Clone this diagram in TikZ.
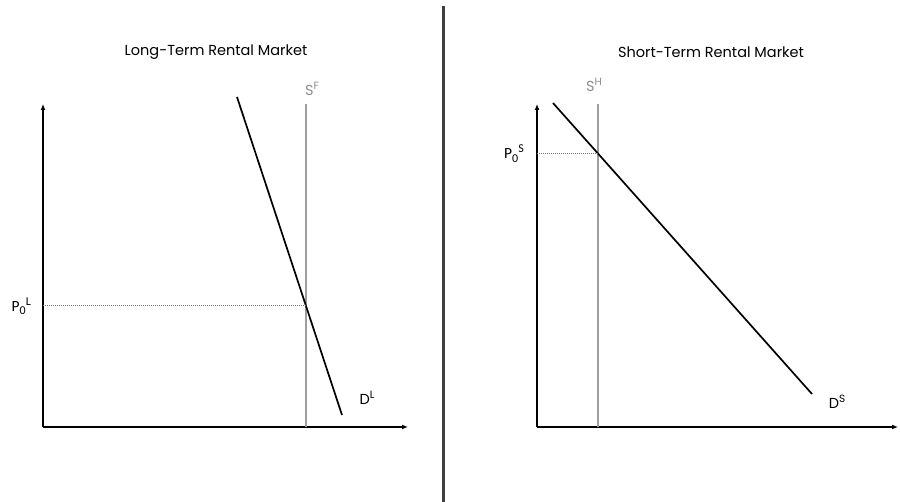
\documentclass[tikz,border=0pt]{standalone}
\usepackage{fontspec}
\setmainfont{Poppins}
\newfontfamily\pricefont{Carlito}
\usetikzlibrary{arrows.meta, positioning, calc}

% curve label with a superscript, price label with sub- and superscript
\newcommand{\curvelab}[2]{#1\raisebox{0.7ex}{\fontsize{10.5}{11}\selectfont #2}}
\newcommand{\pricelab}[1]{{\pricefont\fontsize{15.5}{17}\selectfont P\raisebox{-0.45ex}{\fontsize{12}{13}\selectfont 0}\raisebox{0.8ex}{\fontsize{12}{13}\selectfont #1}}}

\begin{document}
\begin{tikzpicture}[x=1pt, y=-1pt,
    axis/.style={line width=1.8pt, -{Latex[length=6pt,width=5pt]}},
    supply/.style={line width=1.8pt, draw=black!38},
    demand/.style={line width=1.7pt},
    guide/.style={densely dotted, draw=black!55, line width=1pt},
    title/.style={font=\fontsize{14.5}{16}\selectfont},
    lab/.style={font=\fontsize{14.5}{16}\selectfont, inner sep=1pt},
    divider/.style={line width=3pt, draw=black!75}]

    \useasboundingbox (0,0) rectangle (900,502);

    % Divider between the two markets
    \coordinate (divtop) at (443,6);
    \coordinate (divbot) at (443,502);
    \draw[divider] (divtop) -- (divbot);

    % ---- Long-term market ----
    \node[title] (titleL) at (216,52) {Long-Term Rental Market};

    \coordinate (Lo) at (43,427);
    \coordinate (Ly) at (43,104);
    \coordinate (Lx) at (408,427);
    \draw[axis] (Lo) -- (Ly);
    \draw[axis] (Lo) -- (Lx);

    % fixed supply
    \coordinate (SFtop) at (306,104);
    \coordinate (SFbot) at (306,427);
    \draw[supply] (SFbot) -- (SFtop);
    \node[lab, text=black!45] (SF) at (312,89) {\curvelab{S}{F}};

    % demand
    \coordinate (DLtop) at (237,97);
    \coordinate (DLbot) at (342,415);
    \draw[demand] (DLtop) -- (DLbot);
    \node[lab] (DL) at (367,398) {\curvelab{D}{L}};

    % equilibrium price
    \coordinate (eqL) at (intersection of DLtop--DLbot and SFtop--SFbot);
    \coordinate (pL) at (Lo |- eqL);
    \draw[guide] (pL) -- (eqL);
    \node[lab, left=11pt of pL] (PL) {\pricelab{L}};

    % ---- Short-term market ----
    \node[title] (titleR) at (711,52) {Short-Term Rental Market};

    \coordinate (Ro) at (537,427);
    \coordinate (Ry) at (537,104);
    \coordinate (Rx) at (898,427);
    \draw[axis] (Ro) -- (Ry);
    \draw[axis] (Ro) -- (Rx);

    % housing supply
    \coordinate (SHtop) at (598,104);
    \coordinate (SHbot) at (598,427);
    \draw[supply] (SHbot) -- (SHtop);
    \node[lab, text=black!45] (SH) at (594,85) {\curvelab{S}{H}};

    % demand
    \coordinate (DStop) at (553,103);
    \coordinate (DSbot) at (812,394);
    \draw[demand] (DStop) -- (DSbot);
    \node[lab] (DS) at (837,402) {\curvelab{D}{S}};

    % equilibrium price
    \coordinate (eqS) at (intersection of DStop--DSbot and SHtop--SHbot);
    \coordinate (pS) at (Ro |- eqS);
    \draw[guide] (pS) -- (eqS);
    \node[lab, left=12pt of pS] (PS) {\pricelab{S}};

\end{tikzpicture}
\end{document}
